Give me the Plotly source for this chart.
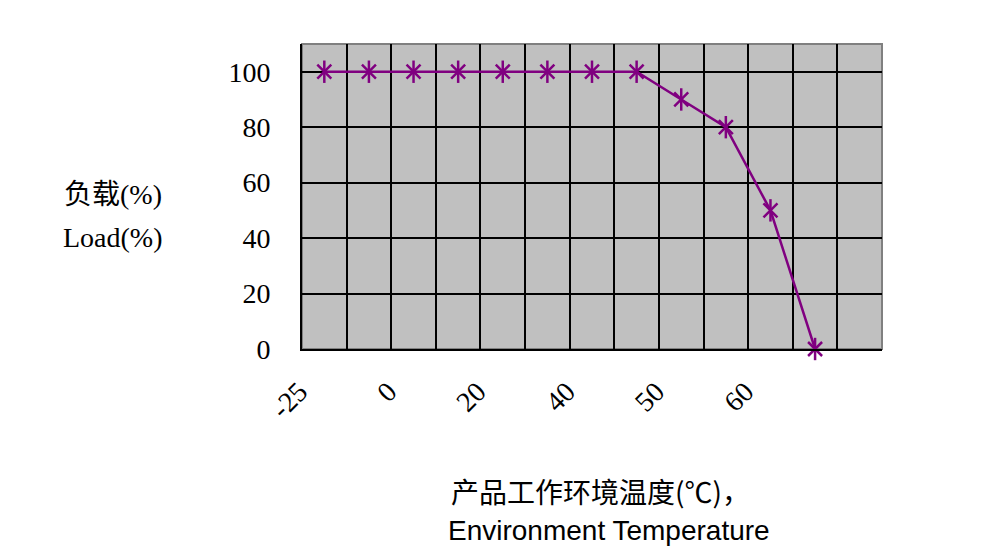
import plotly.graph_objects as go

# ---- data ----
slot_index = [0, 1, 2, 3, 4, 5, 6, 7, 8, 9, 10, 11]
load_pct = [100, 100, 100, 100, 100, 100, 100, 100, 90, 80, 50, 0]
tick_positions = [0, 2, 4, 6, 8, 10]
tick_labels = ["-25", "0", "20", "40", "50", "60"]
y_ticks = [0, 20, 40, 60, 80, 100]
n_slots = 13

OFF = 8  # default body margin of the page
W, H = 985, 550
# desired plot area in window pixels
PX0, PX1, PY0, PY1 = 302, 882, 44, 349
L = PX0 - OFF
T = PY0 - OFF
R = OFF + W - PX1
B = OFF + H - PY1
PW, PH = PX1 - PX0, PY1 - PY0

def px(xp):
    return (xp - PX0) / PW

def py(yp):
    return (PY1 - yp) / PH

serif = "Liberation Serif, Noto Sans CJK SC"
purple = "#800080"
FS = 28

fig = go.Figure()
# line + X part of the Excel-style star marker
fig.add_trace(go.Scatter(
    x=slot_index, y=load_pct, mode="lines+markers",
    line=dict(color=purple, width=2.5),
    marker=dict(symbol="x-thin-open", size=14, color=purple,
                line=dict(color=purple, width=2.5)),
    cliponaxis=False, showlegend=False, hoverinfo="x+y",
))
# vertical stroke of the star marker
fig.add_trace(go.Scatter(
    x=slot_index, y=load_pct, mode="markers",
    marker=dict(symbol="line-ns-open", size=16, color=purple,
                line=dict(color=purple, width=2.5)),
    cliponaxis=False, showlegend=False, hoverinfo="skip",
))

fig.add_shape(type="rect", xref="paper", yref="paper", x0=0, x1=1, y0=0, y1=1,
              line=dict(color="#808080", width=2), layer="below")

def note(text, xp, yp, family):
    return dict(text=text, x=px(xp), y=py(yp), xref="paper", yref="paper",
                xanchor="center", yanchor="middle", showarrow=False,
                font=dict(family=family, size=FS, color="black"))

fig.update_layout(
    width=W, height=H,
    margin=dict(l=L, r=R, t=T, b=B),
    paper_bgcolor="white", plot_bgcolor="#C0C0C0",
    xaxis=dict(
        range=[-0.5, n_slots - 0.5], tickmode="array",
        tickvals=tick_positions, ticktext=tick_labels,
        tickangle=-45, showgrid=False, zeroline=False,
        showline=True, linecolor="black", linewidth=2,
        ticks="", ticklabelstandoff=13, ticklabelshift=-25,
        tickfont=dict(family=serif, size=FS, color="black"),
        minor=dict(tickmode="array",
                   tickvals=[i - 0.5 for i in range(n_slots)],
                   showgrid=True, gridcolor="black", gridwidth=2, ticks=""),
        fixedrange=True,
    ),
    yaxis=dict(
        range=[0, 110], tickmode="array", tickvals=y_ticks,
        showgrid=True, gridcolor="black", gridwidth=2, zeroline=False,
        showline=True, linecolor="black", linewidth=2,
        ticks="", ticklabelstandoff=24,
        tickfont=dict(family=serif, size=FS, color="black"),
        fixedrange=True,
    ),
    annotations=[
        note("负载(%)", 113, 195, serif),
        note("Load(%)", 113, 237, serif),
        note("产品工作环境温度(℃)，", 600, 491, "Noto Sans CJK SC"),
        note("Environment Temperature", 609, 530, "Liberation Sans"),
    ],
)

fig.write_html("out.html")
